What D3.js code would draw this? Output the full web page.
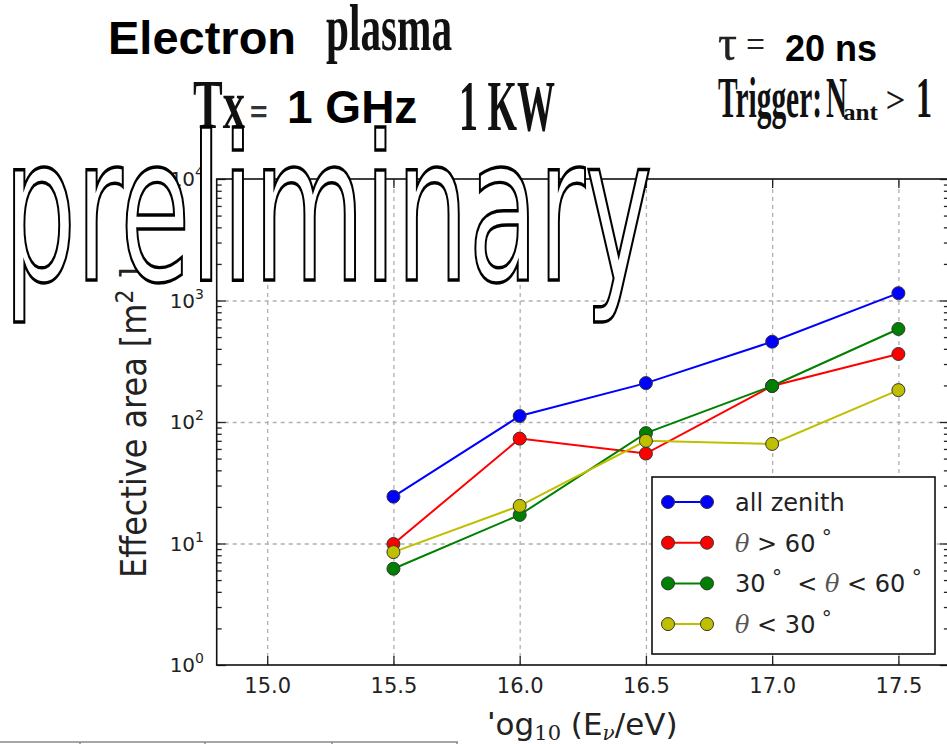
<!DOCTYPE html>
<html>
<head>
<meta charset="utf-8">
<script src="https://cdn.jsdelivr.net/npm/d3@7"></script>
<style>
  body { margin: 0; background: #fff; }
  svg { display: block; }
  text { white-space: pre; }
</style>
</head>
<body>
<svg id="chart"></svg>
<script>
// log10(E/eV) values on the x axis
const energies = [15.5, 16.0, 16.5, 17.0, 17.5];

// effective area [m^2]
const allZenith    = [24.3, 112, 209, 458, 1150];
const thetaAbove60 = [9.9, 73, 55, 198, 363];
const theta30to60  = [6.2, 17.2, 81, 198, 583];
const thetaBelow30 = [8.5, 20.4, 70, 66, 183];

const seriesNames = ["all zenith", "θ > 60°", "30°  < θ < 60°", "θ < 30°"];
const xTicks = [15.0, 15.5, 16.0, 16.5, 17.0, 17.5];
const yDecades = [0, 1, 2, 3, 4];

let width = 947;
let height = 744;

let svg = d3.select("#chart").attr("width", width).attr("height", height);
svg.append("rect").attr("width", width).attr("height", height).attr("fill", "#fff");

const xScale = d3.scaleLinear().domain([14.8, 17.7]).range([216.7, 948.9]);
const yScale = d3.scaleLog().domain([1, 1e4]).range([665, 179]);

const pLeft = xScale.range()[0], pRight = xScale.range()[1];
const pTop = yScale.range()[1], pBottom = yScale.range()[0];

const series = [
    {name: seriesNames[0], values: allZenith,    color: "#0000ff"},
    {name: seriesNames[1], values: thetaAbove60, color: "#ff0000"},
    {name: seriesNames[2], values: theta30to60,  color: "#008000"},
    {name: seriesNames[3], values: thetaBelow30, color: "#bfbf00"}
];

// grid (dashed grey)
const styleGrid = (g) => {
    g.select(".domain").remove();
    g.selectAll("line").attr("stroke", "#b0b0b0").attr("stroke-width", 1.3).attr("stroke-dasharray", "4,4");
};
svg.append("g")
   .attr("transform", `translate(0, ${pBottom})`)
   .call(d3.axisBottom(xScale).tickValues(xTicks).tickSize(-(pBottom - pTop)).tickFormat(""))
   .call(styleGrid);
svg.append("g")
   .attr("transform", `translate(${pLeft}, 0)`)
   .call(d3.axisLeft(yScale).tickValues(yDecades.slice(1, -1).map(d => 10 ** d)).tickSize(-(pRight - pLeft)).tickFormat(""))
   .call(styleGrid);

// lines + markers
const line = d3.line().x(d => xScale(d[0])).y(d => yScale(d[1]));
series.forEach(s => {
    const pts = energies.map((e, i) => [e, s.values[i]]);
    svg.append("path")
       .datum(pts)
       .attr("d", line)
       .attr("fill", "none")
       .attr("stroke", s.color)
       .attr("stroke-width", 2);
    svg.append("g").selectAll("circle")
       .data(pts)
       .enter()
       .append("circle")
       .attr("cx", d => xScale(d[0]))
       .attr("cy", d => yScale(d[1]))
       .attr("r", 6.5)
       .attr("fill", s.color)
       .attr("stroke", "#333")
       .attr("stroke-width", 1);
});

// ticks (inward, matplotlib style)
const majorY = yDecades.map(d => 10 ** d);
const minorY = yScale.ticks().filter(v => !majorY.includes(v));
const styleTicks = (g) => {
    g.select(".domain").remove();
    g.selectAll("line").attr("stroke", "#222").attr("stroke-width", 1.3);
};
[[pLeft, d3.axisLeft], [pRight, d3.axisRight]].forEach(([pos, ax]) => {
    svg.append("g").attr("transform", `translate(${pos}, 0)`)
       .call(ax(yScale).tickValues(majorY).tickSize(-9).tickFormat("")).call(styleTicks);
    svg.append("g").attr("transform", `translate(${pos}, 0)`)
       .call(ax(yScale).tickValues(minorY).tickSize(-5).tickFormat("")).call(styleTicks);
});
svg.append("g").attr("transform", `translate(0, ${pTop})`)
   .call(d3.axisTop(xScale).tickValues(xTicks).tickSize(-9).tickFormat("")).call(styleTicks);

let xAxis = svg.append("g").attr("transform", `translate(0, ${pBottom})`)
   .call(d3.axisBottom(xScale).tickValues(xTicks).tickSize(-9).tickFormat(d3.format(".1f")))
   .call(styleTicks);
xAxis.selectAll("text")
     .attr("y", 28).attr("dy", null)
     .attr("font-family", "DejaVu Sans").attr("font-size", 21).attr("fill", "#222");

// spines
svg.append("rect")
   .attr("x", pLeft).attr("y", pTop)
   .attr("width", pRight - pLeft).attr("height", pBottom - pTop)
   .attr("fill", "none").attr("stroke", "#111").attr("stroke-width", 1.6);

// y tick labels 10^n
yDecades.forEach(d => {
    let t = svg.append("text")
       .attr("x", 204).attr("y", yScale(10 ** d) + 7)
       .attr("text-anchor", "end")
       .attr("font-family", "DejaVu Sans").attr("font-size", 20).attr("fill", "#222");
    t.append("tspan").text("10");
    t.append("tspan").attr("dy", -9).attr("font-size", 14).text(d);
});

// axis labels
svg.append("text")
   .attr("transform", `translate(146, ${(267 + 578) / 2}) rotate(-90)`)
   .attr("text-anchor", "middle")
   .attr("font-family", "DejaVu Sans").attr("font-size", 35).attr("fill", "#222")
   .attr("textLength", 311).attr("lengthAdjust", "spacingAndGlyphs")
   .call(t => {
       t.append("tspan").text("Effective area [m");
       t.append("tspan").attr("dy", -13).attr("font-size", 24).text("2");
       t.append("tspan").attr("dy", 13).text(" ]");
   });

let xl = svg.append("text")
   .attr("x", 487).attr("y", 735)
   .attr("font-family", "DejaVu Sans").attr("font-size", 31).attr("fill", "#222");
xl.append("tspan").text("log");
xl.append("tspan").attr("dy", 5).attr("font-size", 21).attr("font-family", "DejaVu Serif").text("10");
xl.append("tspan").attr("dy", -5).text(" (E");
xl.append("tspan").attr("dy", 5).attr("font-size", 20).attr("font-style", "italic").attr("font-family", "DejaVu Serif").text("ν");
xl.append("tspan").attr("dy", -5).text("/eV)");
// the lower part of the "l" is hidden in the original
svg.append("rect").attr("x", 484).attr("y", 719).attr("width", 10).attr("height", 25).attr("fill", "#fff");

// legend
const legendRowY = (i) => 502 + i * 40.7;
svg.append("rect")
   .attr("x", 652).attr("y", 477).attr("width", 283).attr("height", 177)
   .attr("fill", "#fff").attr("stroke", "#111").attr("stroke-width", 1.6);
series.forEach((s, i) => {
    const ly = legendRowY(i);
    svg.append("line").attr("x1", 668).attr("x2", 707).attr("y1", ly).attr("y2", ly)
       .attr("stroke", s.color).attr("stroke-width", 2);
    [668, 707].forEach(cx => svg.append("circle").attr("cx", cx).attr("cy", ly).attr("r", 6.5)
       .attr("fill", s.color).attr("stroke", "#333").attr("stroke-width", 1));
    let t = svg.append("text").attr("x", 735).attr("y", ly + 9)
       .attr("font-family", "DejaVu Sans").attr("font-size", 24).attr("fill", "#222");
    let shift = 0;
    Array.from(s.name).forEach(ch => {
        if (ch === "θ") {
            t.append("tspan").attr("dy", -shift).attr("font-family", "DejaVu Serif")
             .attr("font-style", "italic").attr("fill", "#555").text(ch);
            shift = 0;
        } else if (ch === "°") {
            t.append("tspan").attr("dy", -8 - shift).attr("font-size", 20).text(" °");
            shift = -8;
        } else {
            t.append("tspan").attr("dy", -shift).text(ch);
            shift = 0;
        }
    });
});

// slide title texts
const titleText = (str, x, y, family, size, opts = {}) => {
    let t = svg.append("text").attr("x", x).attr("y", y)
       .attr("font-family", family).attr("font-size", size)
       .attr("fill", opts.fill || "#000")
       .text(str);
    if (opts.bold) t.attr("font-weight", "bold");
    if (opts.len) t.attr("textLength", opts.len).attr("lengthAdjust", "spacingAndGlyphs");
    if (opts.heavy) t.attr("stroke", opts.fill || "#111").attr("stroke-width", opts.heavy);
    return t;
};
const serif = "Liberation Serif";
const sans = "Liberation Sans";
titleText("Electron", 108, 54, sans, 47, {bold: true});
titleText("plasma", 326, 50, serif, 66, {len: 126, fill: "#111", bold: true});
titleText("Tx", 193, 128, serif, 70, {len: 52, fill: "#111", bold: true});
titleText("=", 250, 122, sans, 30, {bold: true, fill: "#333"});
titleText("1 GHz", 287, 123, sans, 46, {bold: true});
titleText("1 KW", 459, 130, serif, 72, {len: 96, fill: "#111", bold: true});
titleText("τ", 718, 60, serif, 50, {len: 19, fill: "#222", heavy: 0.4});
titleText("=", 746, 58, serif, 40, {len: 19, fill: "#222"});
titleText("20 ns", 785, 61, sans, 36, {bold: true});
titleText("Trigger:", 718, 117, serif, 56, {len: 104, fill: "#111", bold: true});
titleText("N", 826, 117, serif, 56, {len: 21, fill: "#111", bold: true});
titleText("ant", 843, 120, serif, 24, {len: 35, fill: "#111", bold: true});
titleText(">", 886, 112, serif, 36, {len: 19, fill: "#111", heavy: 0.5});
titleText("1", 916, 117, serif, 56, {len: 16, fill: "#111", bold: true});

// "preliminary" watermark, outlined, horizontally squeezed
svg.append("text")
   .attr("transform", "translate(3.7, 280) scale(0.5666, 1)")
   .attr("font-family", "DejaVu Sans").attr("font-size", 201)
   .attr("fill", "#fff").attr("stroke", "#000").attr("stroke-width", 2.8)
   .attr("vector-effect", "non-scaling-stroke")
   .text("preliminary");

// edge of a table below the figure
svg.append("line").attr("x1", 0).attr("x2", 458).attr("y1", 742).attr("y2", 742)
   .attr("stroke", "#888").attr("stroke-width", 1.5);
[80, 205, 332, 457].forEach(vx => svg.append("line")
   .attr("x1", vx).attr("x2", vx).attr("y1", 742).attr("y2", 744)
   .attr("stroke", "#888").attr("stroke-width", 1.5));
</script>
</body>
</html>
